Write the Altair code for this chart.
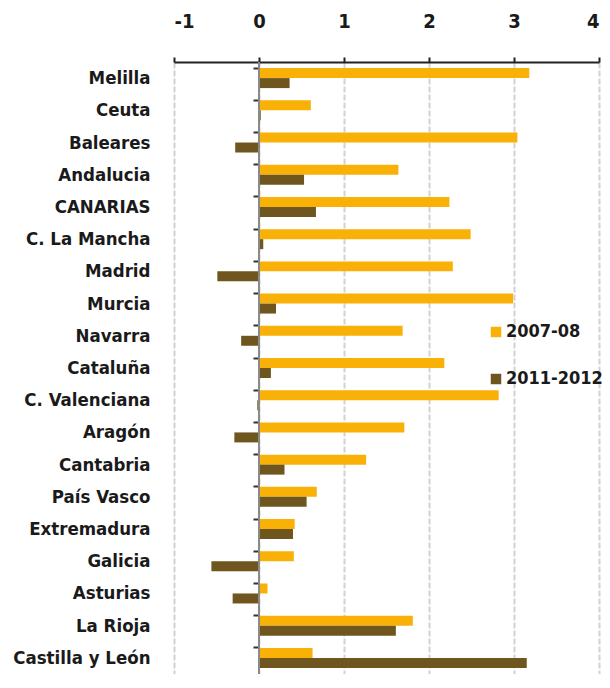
import altair as alt
import pandas as pd

regions = ["Melilla", "Ceuta", "Baleares", "Andalucia", "CANARIAS", "C. La Mancha",
           "Madrid", "Murcia", "Navarra", "Cataluña", "C. Valenciana", "Aragón",
           "Cantabria", "País Vasco", "Extremadura", "Galicia", "Asturias",
           "La Rioja", "Castilla y León"]
v_2007_08 = [3.18, 0.61, 3.04, 1.64, 2.24, 2.49, 2.28, 2.99, 1.69, 2.18, 2.82,
             1.71, 1.26, 0.68, 0.42, 0.41, 0.10, 1.81, 0.63]
v_2011_12 = [0.36, 0.02, -0.28, 0.53, 0.67, 0.05, -0.49, 0.20, -0.21, 0.14, -0.02,
             -0.29, 0.30, 0.56, 0.40, -0.56, -0.31, 1.61, 3.15]
series = ["2007-08", "2011-2012"]
colors = ["#F9B108", "#6E561E"]
x_ticks = [-1, 0, 1, 2, 3, 4]

rows = []
for i, r in enumerate(regions):
    rows.append({"region": r, "serie": series[0], "value": v_2007_08[i]})
    rows.append({"region": r, "serie": series[1], "value": v_2011_12[i]})
df = pd.DataFrame(rows)

FONT = "DejaVu Sans Condensed"
TXT = "#1a1a1a"

bars = alt.Chart(df).mark_bar().encode(
    x=alt.X("value:Q",
            scale=alt.Scale(domain=[-1, 4], nice=False, zero=False),
            axis=alt.Axis(orient="top", values=x_ticks, labelExpr="datum.value + ''",
                          title=None,
                          labelFontSize=20, labelColor=TXT, labelFont=FONT,
                          labelFontWeight="bold",
                          labelPadding=26, tickSize=5, tickColor="#222", tickWidth=2,
                          domainColor="#222", domainWidth=2,
                          grid=True, gridColor="#d2d2d2", gridDash=[6, 2], gridWidth=2)),
    y=alt.Y("region:N", sort=regions,
            scale=alt.Scale(paddingInner=0.38, paddingOuter=0.19),
            axis=alt.Axis(title=None, ticks=False, domain=False, labelFontSize=18.5,
                          labelFont=FONT, labelFontWeight="bold", labelColor=TXT,
                          labelPadding=24, labelLimit=300)),
    yOffset=alt.YOffset("serie:N", sort=series, scale=alt.Scale(paddingInner=0, paddingOuter=0)),
    color=alt.Color("serie:N", sort=series,
                    scale=alt.Scale(domain=series, range=colors),
                    legend=alt.Legend(title=None, orient="none", legendX=313, legendY=261,
                                      symbolType="square", symbolSize=110,
                                      symbolStrokeWidth=0, labelFontSize=18,
                                      labelFont=FONT, labelFontWeight="bold",
                                      labelColor=TXT, rowPadding=29, labelOffset=1)),
)

zero = alt.Chart(pd.DataFrame({"x": [0]})).mark_rule(color="#8a8a8a", strokeWidth=2).encode(
    x="x:Q")

cat_ticks = alt.Chart(df).mark_tick(opacity=0).encode(
    y=alt.Y("region:N", sort=regions,
            axis=alt.Axis(orient="left", offset=-85, labels=False, domain=False,
                          ticks=True, tickSize=6, tickWidth=2, tickColor="#333",
                          bandPosition=0, title=None, grid=False)),
)

chart = alt.layer(bars, zero, cat_ticks).resolve_axis(y="independent").properties(
    width=425, height=612,
    autosize=alt.AutoSizeParams(type="none"),
    padding={"left": 166, "top": 54, "right": 3, "bottom": 0},
).configure_view(stroke=None)

chart.save("out.html", embed_options={"renderer": "svg", "actions": False})
